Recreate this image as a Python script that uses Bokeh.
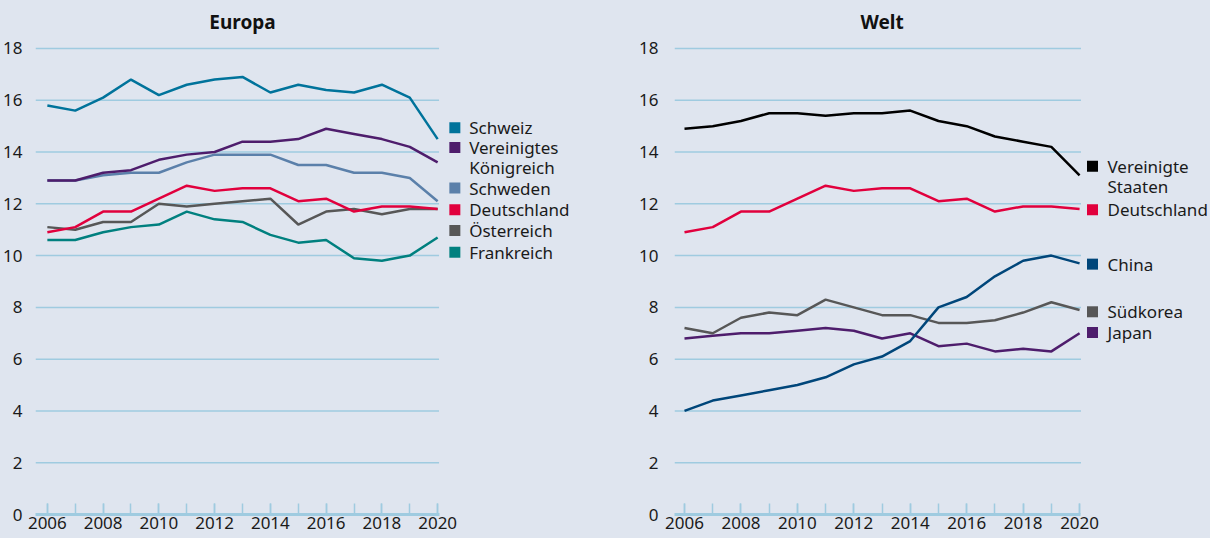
from bokeh.plotting import figure
from bokeh.layouts import row
from bokeh.models import FixedTicker
from bokeh.core.properties import value
from bokeh.embed import file_html
from bokeh.resources import INLINE

# ---------------- data ----------------
years = list(range(2006, 2021))
y_ticks = [0, 2, 4, 6, 8, 10, 12, 14, 16, 18]
x_label_years = [2006, 2008, 2010, 2012, 2014, 2016, 2018, 2020]

schweiz = [15.8, 15.6, 16.1, 16.8, 16.2, 16.6, 16.8, 16.9, 16.3, 16.6, 16.4, 16.3, 16.6, 16.1, 14.5]
vereinigtes_koenigreich = [12.9, 12.9, 13.2, 13.3, 13.7, 13.9, 14.0, 14.4, 14.4, 14.5, 14.9, 14.7, 14.5, 14.2, 13.6]
schweden = [12.9, 12.9, 13.1, 13.2, 13.2, 13.6, 13.9, 13.9, 13.9, 13.5, 13.5, 13.2, 13.2, 13.0, 12.1]
deutschland = [10.9, 11.1, 11.7, 11.7, 12.2, 12.7, 12.5, 12.6, 12.6, 12.1, 12.2, 11.7, 11.9, 11.9, 11.8]
oesterreich = [11.1, 11.0, 11.3, 11.3, 12.0, 11.9, 12.0, 12.1, 12.2, 11.2, 11.7, 11.8, 11.6, 11.8, 11.8]
frankreich = [10.6, 10.6, 10.9, 11.1, 11.2, 11.7, 11.4, 11.3, 10.8, 10.5, 10.6, 9.9, 9.8, 10.0, 10.7]

vereinigte_staaten = [14.9, 15.0, 15.2, 15.5, 15.5, 15.4, 15.5, 15.5, 15.6, 15.2, 15.0, 14.6, 14.4, 14.2, 13.1]
china = [4.0, 4.4, 4.6, 4.8, 5.0, 5.3, 5.8, 6.1, 6.7, 8.0, 8.4, 9.2, 9.8, 10.0, 9.7]
suedkorea = [7.2, 7.0, 7.6, 7.8, 7.7, 8.3, 8.0, 7.7, 7.7, 7.4, 7.4, 7.5, 7.8, 8.2, 7.9]
japan = [6.8, 6.9, 7.0, 7.0, 7.1, 7.2, 7.1, 6.8, 7.0, 6.5, 6.6, 6.3, 6.4, 6.3, 7.0]

europa_names = ["Schweiz", "Vereinigtes\nKönigreich", "Schweden", "Deutschland", "Österreich", "Frankreich"]
europa_series = [schweiz, vereinigtes_koenigreich, schweden, deutschland, oesterreich, frankreich]
europa_colors = ["#00739b", "#4e1d6c", "#5b80aa", "#e1003d", "#575757", "#00807f"]
europa_label_y = [14.94, 14.18, 12.61, 11.77, 10.97, 10.13]
europa_draw_order = [5, 4, 3, 2, 1, 0]

welt_names = ["Vereinigte\nStaaten", "Deutschland", "China", "Südkorea", "Japan"]
welt_series = [vereinigte_staaten, deutschland, china, suedkorea, japan]
welt_colors = ["#000000", "#e1003d", "#00467a", "#575757", "#4e1d6c"]
welt_label_y = [13.45, 11.77, 9.67, 7.83, 7.03]
welt_draw_order = [4, 3, 2, 1, 0]

# ---------------- style ----------------
BG = "#dfe5ef"
GRID = "#9fcbe0"
TXT = "#1a1a1a"
FONT = "Noto Sans"
PX_PER_UNIT = 25.89   # vertical px per data unit
PX_PER_YEAR = 28.22
HEIGHT = 538
BORDER_BOTTOM = 24


def panel(title, names, series, colors, label_y, order, width, border_left,
          first_px, sq_px, txt_px, standoff):
    frame_w = width - border_left
    frame_h = HEIGHT - BORDER_BOTTOM
    x_start = years[0] - first_px / PX_PER_YEAR
    x_end = x_start + frame_w / PX_PER_YEAR
    grid_end = years[-1] + 0.05
    y_end = frame_h / PX_PER_UNIT
    p = figure(width=width, height=HEIGHT, output_backend="svg", toolbar_location=None,
               x_range=(x_start, x_end), y_range=(0, y_end),
               min_border_left=border_left, min_border_right=0,
               min_border_top=0, min_border_bottom=BORDER_BOTTOM)
    p.background_fill_color = BG
    p.border_fill_color = BG
    p.outline_line_color = None
    p.xgrid.visible = False
    p.ygrid.visible = False

    # horizontal grid lines (without the zero line, which is the axis)
    gy = y_ticks[1:]
    p.segment(x0=[x_start] * len(gy), y0=gy, x1=[grid_end] * len(gy), y1=gy,
              line_color=GRID, line_width=1.5)

    xa = p.xaxis[0]
    xa.ticker = FixedTicker(ticks=x_label_years, minor_ticks=years)
    xa.bounds = (x_start, grid_end)
    xa.axis_line_color = GRID
    xa.axis_line_width = 3
    xa.major_tick_line_color = GRID
    xa.minor_tick_line_color = GRID
    xa.major_tick_line_width = 1.5
    xa.minor_tick_line_width = 1.5
    xa.major_tick_in = 11
    xa.major_tick_out = 0
    xa.minor_tick_in = 11
    xa.minor_tick_out = 0
    xa.major_label_standoff = 2
    xa.major_label_text_font = FONT
    xa.major_label_text_font_size = "17px"
    xa.major_label_text_color = TXT

    ya = p.yaxis[0]
    ya.ticker = FixedTicker(ticks=y_ticks)
    ya.axis_line_color = None
    ya.major_tick_line_color = None
    ya.minor_tick_line_color = None
    ya.major_label_standoff = standoff
    ya.major_label_text_font = FONT
    ya.major_label_text_font_size = "17px"
    ya.major_label_text_color = TXT

    for i in order:
        p.line(years, series[i], line_color=colors[i], line_width=2.5)

    sq_x = years[0] + sq_px / PX_PER_YEAR
    txt_x = years[0] + txt_px / PX_PER_YEAR
    line_step = 20 / PX_PER_UNIT
    p.scatter(x=[sq_x] * len(names), y=label_y, marker="square", size=11,
              fill_color=colors, line_color=None)
    for name, ly in zip(names, label_y):
        for k, part in enumerate(name.split("\n")):
            p.text(x=[txt_x], y=[ly - k * line_step], text=[part],
                   text_font=value(FONT), text_font_size="17px", text_color=TXT,
                   text_align="left", text_baseline="middle")

    title_y = y_ticks[-1] + 26 / PX_PER_UNIT
    p.text(x=[(years[0] + years[-1]) / 2], y=[title_y], text=[title],
           text_font=value(FONT), text_font_style="bold", text_font_size="19px",
           text_color="#111111", text_align="center", text_baseline="middle")
    return p


p1 = panel("Europa", europa_names, europa_series, europa_colors, europa_label_y,
           europa_draw_order, width=605, border_left=28,
           first_px=12, sq_px=412.5, txt_px=427, standoff=7)
p2 = panel("Welt", welt_names, welt_series, welt_colors, welt_label_y,
           welt_draw_order, width=605, border_left=69,
           first_px=10, sq_px=408, txt_px=423, standoff=10)

layout = row(p1, p2, styles={"background-color": BG})
open("out.html", "w").write(file_html(layout, INLINE))
